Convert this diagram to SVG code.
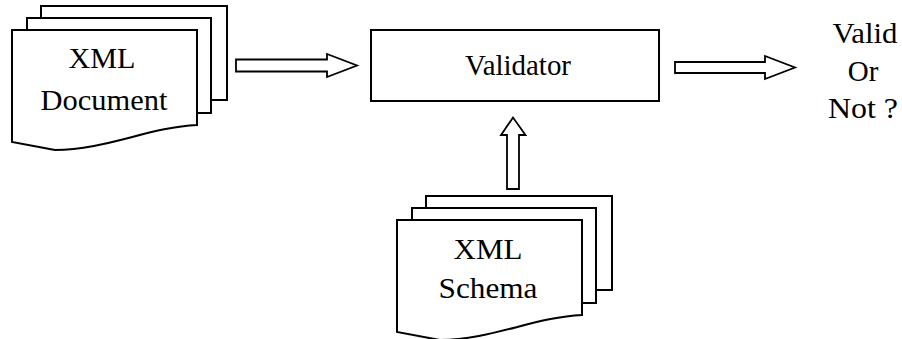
<svg xmlns="http://www.w3.org/2000/svg" width="902" height="339" viewBox="0 0 902 339">
<style>
.shape{fill:#fff;stroke:#000;stroke-width:2;stroke-linejoin:miter}
.arrow{fill:#fff;stroke:#000;stroke-width:1.8;stroke-linejoin:miter}
.t{font-family:"Liberation Serif","Times New Roman",serif;font-size:29px;fill:#000;text-anchor:middle}
</style>
<defs>
<g id="stack">
<rect class="shape" x="41" y="6" width="186" height="94"/>
<rect class="shape" x="27" y="18" width="184" height="95"/>
<path class="shape" d="M12,30 H197 V125 C150,127 105,150 55,150 L12,142 Z"/>
</g>
</defs>
<rect width="902" height="339" fill="#fff"/>
<g id="xml-document">
<use href="#stack"/>
<text class="t" x="102" y="68" textLength="67" lengthAdjust="spacingAndGlyphs">XML</text>
<text class="t" x="104" y="110" textLength="127" lengthAdjust="spacingAndGlyphs">Document</text>
</g>
<g id="validator">
<rect class="shape" x="371" y="30" width="288" height="71"/>
<text class="t" x="518" y="75" textLength="106" lengthAdjust="spacingAndGlyphs">Validator</text>
</g>
<g id="xml-schema">
<use href="#stack" transform="translate(385,190)"/>
<text class="t" x="488" y="259" textLength="69" lengthAdjust="spacingAndGlyphs">XML</text>
<text class="t" x="488" y="298" textLength="99" lengthAdjust="spacingAndGlyphs">Schema</text>
</g>
<g id="result">
<text class="t" x="865" y="43" textLength="65" lengthAdjust="spacingAndGlyphs">Valid</text>
<text class="t" x="863" y="81">Or</text>
<text class="t" x="863" y="118" textLength="70" lengthAdjust="spacingAndGlyphs">Not ?</text>
</g>
<g id="connectors">
<polygon class="arrow" points="236,59.5 327,59.5 327,54 357,65.5 327,77 327,71.5 236,71.5"/>
<polygon class="arrow" points="675,62 765,62 765,56 795,67.5 765,79 765,73 675,73"/>
<polygon class="arrow" points="507,189 507,135 501,135 513,117.5 525.5,135 519,135 519,189"/>
</g>
</svg>
